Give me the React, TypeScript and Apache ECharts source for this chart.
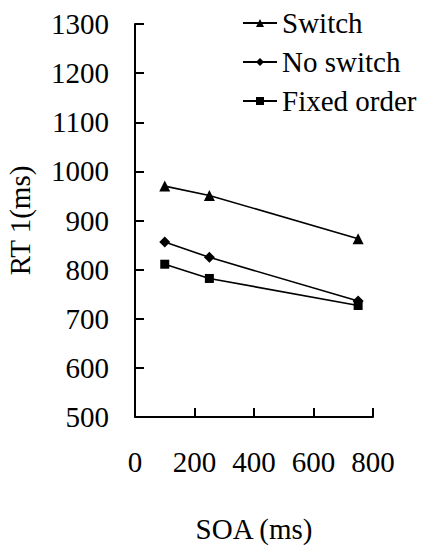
import React, { useEffect, useRef } from "react";
import * as echarts from "echarts";

const soa = [100, 250, 750];
const switchRT = [970, 951, 863];
const noSwitchRT = [856, 825, 736];
const fixedOrderRT = [811, 782, 727];
const seriesNames = ["Switch", "No switch", "Fixed order"];
const xTicks = [0, 200, 400, 600, 800];

const FONT = "Liberation Serif";

export default function App() {
  const ref = useRef<HTMLDivElement>(null);
  useEffect(() => {
    if (!ref.current) return;
    const chart = echarts.init(ref.current, null, { renderer: "svg" });
    const mk = (name: string, vals: number[], symbol: string, size: number) => ({
      name,
      type: "line",
      data: soa.map((x, i) => [x, vals[i]]),
      symbol,
      symbolSize: size,
      showAllSymbol: true,
      lineStyle: { color: "#000", width: 1.6 },
      itemStyle: { color: "#000", borderColor: "#000", borderWidth: 0 },
      emphasis: { disabled: true },
    });
    chart.setOption({
      animation: false,
      backgroundColor: "#fff",
      textStyle: { fontFamily: FONT, color: "#000" },
      grid: { left: 135, right: 49, top: 24, bottom: 128, containLabel: false, outerBoundsMode: "none" },
      legend: {
        orient: "vertical",
        left: 237,
        top: 3,
        itemWidth: 34,
        itemHeight: 10,
        itemGap: 9,
        data: seriesNames,
        textStyle: { fontFamily: FONT, fontSize: 29, color: "#000", lineHeight: 30 },
        selectedMode: false,
      },
      xAxis: {
        type: "value",
        min: xTicks[0],
        max: xTicks[xTicks.length - 1],
        interval: 200,
        name: "SOA (ms)",
        nameLocation: "middle",
        nameGap: 97,
        nameTextStyle: { fontFamily: FONT, fontSize: 29, color: "#000" },
        axisLine: { show: true, lineStyle: { color: "#000", width: 2 } },
        axisTick: { show: true, inside: true, length: 9, lineStyle: { color: "#000", width: 2 } },
        axisLabel: { fontFamily: FONT, fontSize: 29, color: "#000", margin: 30, formatter: (v: number) => String(v) },
        splitLine: { show: false },
      },
      yAxis: {
        type: "value",
        min: 500,
        max: 1300,
        interval: 100,
        name: "RT 1(ms)",
        nameLocation: "middle",
        nameGap: 101,
        nameTextStyle: { fontFamily: FONT, fontSize: 29, color: "#000" },
        axisLine: { show: true, lineStyle: { color: "#000", width: 2 } },
        axisTick: { show: true, inside: true, length: 9, lineStyle: { color: "#000", width: 2 } },
        axisLabel: { fontFamily: FONT, fontSize: 29, color: "#000", margin: 26, formatter: (v: number) => String(v) },
        splitLine: { show: false },
      },
      series: [
        mk(seriesNames[0], switchRT, "triangle", 11),
        mk(seriesNames[1], noSwitchRT, "diamond", 11),
        mk(seriesNames[2], fixedOrderRT, "rect", 9),
      ],
    });
    return () => chart.dispose();
  }, []);
  return (
    <div
      ref={ref}
      style={{ position: "fixed", left: 0, top: 0, width: 422, height: 545, background: "#fff" }}
    />
  );
}
